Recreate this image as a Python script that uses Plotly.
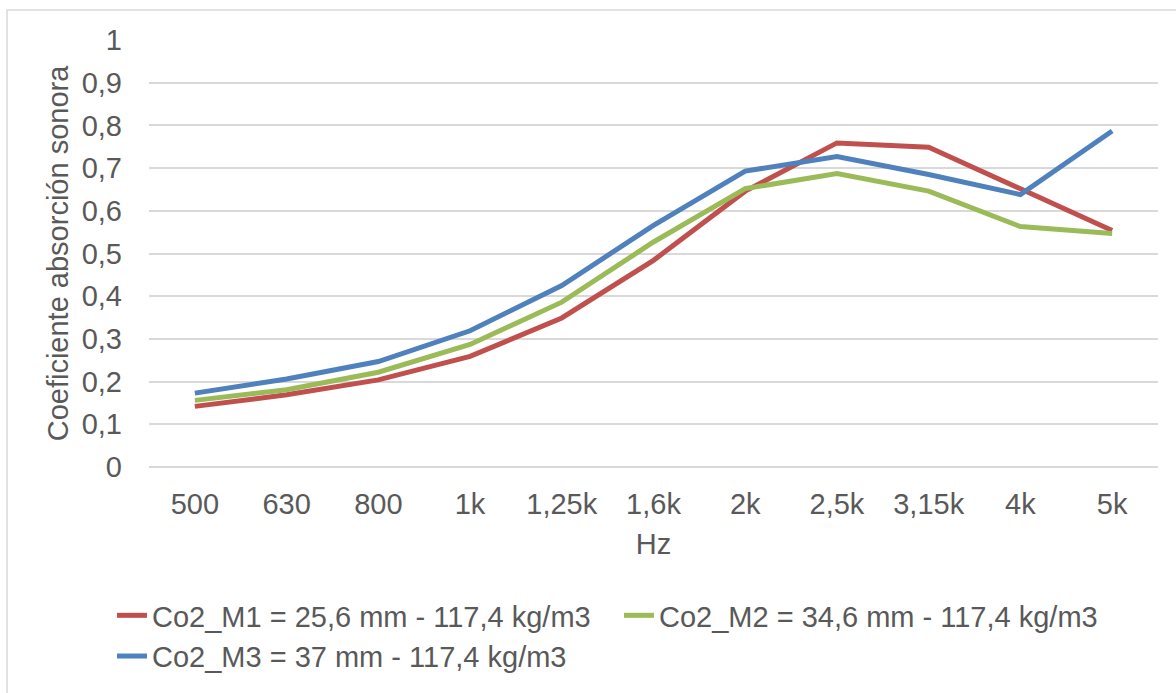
import plotly.graph_objects as go

categories = ["500", "630", "800", "1k", "1,25k", "1,6k", "2k", "2,5k", "3,15k", "4k", "5k"]
m1 = [0.142, 0.169, 0.204, 0.259, 0.349, 0.484, 0.646, 0.759, 0.749, 0.651, 0.554]
m2 = [0.156, 0.181, 0.222, 0.287, 0.386, 0.527, 0.652, 0.687, 0.646, 0.563, 0.547]
m3 = [0.173, 0.206, 0.247, 0.319, 0.425, 0.566, 0.693, 0.727, 0.685, 0.638, 0.787]
names = ["Co2_M1 = 25,6 mm - 117,4 kg/m3",
         "Co2_M2 = 34,6 mm - 117,4 kg/m3",
         "Co2_M3 = 37 mm - 117,4 kg/m3"]
colors = ["#C0504D", "#9BBB59", "#4F81BD"]

fig = go.Figure()
for vals, nm, col in zip([m1, m2, m3], names, colors):
    fig.add_trace(go.Scatter(x=categories, y=vals, name=nm, mode="lines",
                             line=dict(color=col, width=5)))

font_fam = "Liberation Sans, Arial, sans-serif"
fs = 29
txt = "#595959"
fig.update_layout(
    width=1176, height=693,
    margin=dict(l=149, r=18, t=40, b=226, autoexpand=False),
    paper_bgcolor="white", plot_bgcolor="white",
    separators=", ",
    font=dict(family=font_fam, size=fs, color=txt),
    showlegend=True,
    legend=dict(orientation="h", x=-0.0367, xanchor="left", y=-0.288, yanchor="top",
                entrywidth=462, entrywidthmode="pixels",
                font=dict(size=fs, color=txt), tracegroupgap=0),
    xaxis=dict(type="category", range=[-0.5, 10.5], showgrid=False, showline=False,
               zeroline=False, ticks="", ticklabelstandoff=17, automargin=False,
               title=dict(text="Hz", standoff=14, font=dict(size=fs, color=txt)),
               tickfont=dict(size=fs, color=txt)),
    yaxis=dict(range=[0, 1], dtick=0.1, tick0=0, showgrid=True, gridcolor="#D9D9D9",
               gridwidth=1.5, zeroline=True, zerolinecolor="#D9D9D9", zerolinewidth=1.5,
               showline=False, ticks="", ticklabelstandoff=26, automargin=False,
               title=dict(text="Coeficiente absorción sonora", standoff=4,
                          font=dict(size=fs, color=txt)),
               tickfont=dict(size=fs, color=txt)),
    shapes=[dict(type="rect", xref="paper", yref="paper",
                 x0=-0.1407, x1=1.05, y0=-0.6, y1=1.0703,
                 line=dict(color="#D9D9D9", width=1.5), layer="below")],
)

fig.write_html("out.html")
